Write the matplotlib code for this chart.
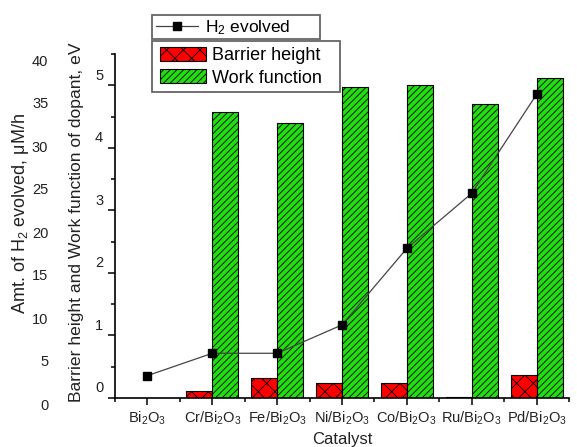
import matplotlib
matplotlib.use("Agg")
import matplotlib.pyplot as plt
import matplotlib.transforms as mtransforms
from matplotlib.ticker import FixedLocator
from matplotlib.lines import Line2D
from matplotlib.patches import Patch, Rectangle
import numpy as np

plt.rcParams['font.family'] = ['Liberation Sans', 'DejaVu Sans']
plt.rcParams['mathtext.fontset'] = 'custom'
plt.rcParams['mathtext.rm'] = 'Liberation Sans'
plt.rcParams['mathtext.it'] = 'Liberation Sans:italic'
plt.rcParams['hatch.linewidth'] = 0.6

# ---- data ----
catalysts = ['Bi$_2$O$_3$', 'Cr/Bi$_2$O$_3$', 'Fe/Bi$_2$O$_3$', 'Ni/Bi$_2$O$_3$',
             'Co/Bi$_2$O$_3$', 'Ru/Bi$_2$O$_3$', 'Pd/Bi$_2$O$_3$']
barrier_height = [0.0, 0.11, 0.32, 0.24, 0.24, 0.02, 0.37]
work_function = [0.0, 4.58, 4.39, 4.98, 5.00, 4.70, 5.11]
h2_evolved = [2.6, 5.2, 5.2, 8.5, 17.4, 23.8, 35.3]
bar_ticks = [0, 1, 2, 3, 4, 5]
h2_ticks = [0, 5, 10, 15, 20, 25, 30, 35, 40]

W, H = 577, 447
fig = plt.figure(figsize=(W / 100, H / 100), dpi=100)
L, R, T, B = 115, 569, 54, 398
ax = fig.add_axes([L / W, 1 - B / H, (R - L) / W, (B - T) / H])

RED = '#ff0000'
GREEN = '#22dd11'
TXT = '#222222'

x = np.arange(len(catalysts))
bw = 0.4
ax.bar(x - bw / 2, barrier_height, bw, color=RED, edgecolor='black',
       hatch='xx', linewidth=0.8, zorder=2)
ax.bar(x + bw / 2, work_function, bw, color=GREEN, edgecolor='black',
       hatch='/////', linewidth=0.8, zorder=2)

ax.set_xlim(-0.5, 6.5)
ax.set_ylim(0, 5.5)
for s in ['top', 'right']:
    ax.spines[s].set_visible(False)
for s in ['left', 'bottom']:
    ax.spines[s].set_linewidth(1.2)
ax.set_xticks(x)
ax.set_xticklabels(catalysts, fontsize=10.5, color=TXT)
ax.xaxis.set_minor_locator(FixedLocator(np.arange(-0.5, 7, 1.0)))
ax.set_yticks(bar_ticks)
ax.set_yticklabels([str(v) for v in bar_ticks], fontsize=10.5, color=TXT)
ax.yaxis.set_minor_locator(FixedLocator(np.arange(0.5, 5.6, 1.0)))
ax.tick_params(which='major', direction='out', length=5, width=1.1)
ax.tick_params(which='minor', direction='out', length=3, width=1.1)
ax.tick_params(axis='x', which='major', pad=3)
ax.set_xlabel('Catalyst', fontsize=12, color=TXT, labelpad=4)
ax.set_ylabel('Barrier height and Work function of dopant, eV', fontsize=12.6,
              color=TXT)
ax.yaxis.set_label_coords(-0.068, 0.512)

# shift inner tick labels upward (as in the reference)
off_up = mtransforms.ScaledTranslation(0, 11 / 100, fig.dpi_scale_trans)
for lab in ax.get_yticklabels():
    lab.set_transform(lab.get_transform() + off_up)

# H2 axis
ax2 = ax.twinx()
ax2.set_ylim(0, 40)
for s in ax2.spines.values():
    s.set_visible(False)
ax2.patch.set_visible(False)
ax2.yaxis.set_ticks_position('left')
ax2.yaxis.set_label_position('left')
ax2.set_yticks(h2_ticks)
ax2.set_yticklabels([str(v) for v in h2_ticks], fontsize=10.5, color=TXT)
ax2.tick_params(axis='y', length=0, pad=48)
ax2.plot(x, h2_evolved, color='#444444', linewidth=0.9, marker='s',
         markersize=5.5, markerfacecolor='black', markeredgecolor='black', zorder=5)
ax2.set_ylabel('Amt. of H$_2$ evolved, μM/h', fontsize=13, color=TXT)
ax2.yaxis.set_label_coords(-0.185, 0.535)
off_dn = mtransforms.ScaledTranslation(0, -6 / 100, fig.dpi_scale_trans)
for lab in ax2.get_yticklabels():
    lab.set_transform(lab.get_transform() + off_dn)

# legend boxes (drawn as figure rectangles)
def fig_rect(x0, y0, x1, y1):
    r = Rectangle((x0 / W, 1 - y1 / H), (x1 - x0) / W, (y1 - y0) / H,
                  transform=fig.transFigure, facecolor='white',
                  edgecolor='#666666', linewidth=1.3, zorder=10)
    fig.add_artist(r)

fig_rect(152, 15, 320, 39)
fig_rect(152, 41, 340, 92)

h_line = Line2D([], [], color='#444444', linewidth=0.9, marker='s', markersize=5.5,
                markerfacecolor='black', markeredgecolor='black')
leg1 = fig.legend([h_line], ['H$_2$ evolved'], loc='upper left',
                  bbox_to_anchor=(156 / W, 1 - 18.5 / H), fontsize=12.5,
                  frameon=False, borderaxespad=0, borderpad=0,
                  handlelength=2.4, handletextpad=0.4)
leg1.set_zorder(20)
p_red = Patch(facecolor=RED, edgecolor='black', hatch='xx', linewidth=0.8)
p_green = Patch(facecolor=GREEN, edgecolor='black', hatch='/////', linewidth=0.8)
leg2 = fig.legend([p_red, p_green], ['Barrier height', 'Work function'],
                  loc='upper left', bbox_to_anchor=(160 / W, 1 - 47 / H),
                  fontsize=13, frameon=False, borderaxespad=0, borderpad=0,
                  handlelength=2.55, handleheight=0.78, handletextpad=0.35,
                  labelspacing=0.3)
leg2.set_zorder(20)

fig.savefig('out.png', dpi=100)
